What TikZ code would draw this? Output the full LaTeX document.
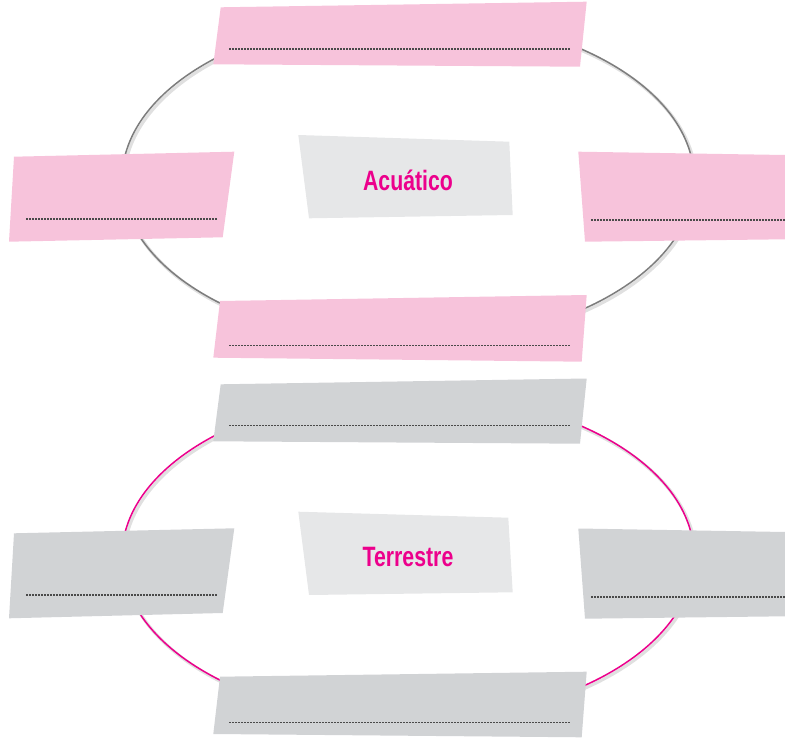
\documentclass[tikz,border=0pt]{standalone}
\usepackage{fontspec}
\setmainfont{Liberation Sans}
\usepackage{graphicx}
\definecolor{boxpink}{HTML}{F7C3DB}
\definecolor{boxgray}{HTML}{D1D3D5}
\definecolor{centergray}{HTML}{E6E7E8}
\definecolor{mag}{HTML}{EC008C}
\definecolor{ringgray}{HTML}{7D7D7D}
\definecolor{dotgray}{HTML}{4A4A4A}
\begin{document}
\begin{tikzpicture}[x=1pt,y=-1pt,
  ringshadow/.style={draw=black!12, line width=3.2pt},
  ringline/.style={line width=1.5pt},
  pinkbox/.style={fill=boxpink, draw=none},
  graybox/.style={fill=boxgray, draw=none},
  centerbox/.style={fill=centergray, draw=none},
  dotline/.style={draw=dotgray, line width=1.5pt, dash pattern=on 1.5pt off 1.5pt},
  title/.style={font=\bfseries\fontsize{28}{30}\selectfont, text=mag, anchor=base, inner sep=0pt}]
\useasboundingbox (0,0) rectangle (785,738);

% ---------- upper group (Acuatico) ----------
\coordinate (c1) at (408,179.5);
\draw[ringshadow] ([shift={(1.8,2)}]c1) ellipse [x radius=286, y radius=164];
\draw[ringline, draw=ringgray] (c1) ellipse [x radius=286, y radius=164];

\path[pinkbox] (220.7,7.3) -- (586.7,1.7) -- (580,66.7) -- (213.3,64.3) -- cycle;
\path[pinkbox] (14,156.7) -- (234.3,151.7) -- (222.7,237.3) -- (9,241.7) -- cycle;
\path[pinkbox] (578.3,151.7) -- (785,155) -- (785,239.3) -- (585,241.7) -- cycle;
\path[pinkbox] (220,301) -- (586.7,295) -- (581.7,361.7) -- (213.3,357.7) -- cycle;
\path[centerbox] (298.3,135) -- (509.3,141.7) -- (512.7,215) -- (309,218.3) -- cycle;

\coordinate (t1a) at (229,49);   \coordinate (t1b) at (571,49);
\coordinate (l1a) at (26,219);   \coordinate (l1b) at (217,219);
\coordinate (r1a) at (591,220);  \coordinate (r1b) at (785,220);
\coordinate (b1a) at (229,345.7); \coordinate (b1b) at (571,345.7);
\draw[dotline] (t1a) -- (t1b);
\draw[dotline] (l1a) -- (l1b);
\draw[dotline] (r1a) -- (r1b);
\draw[dotline] (b1a) -- (b1b);

\node[title] (acu) at (408,191) {\scalebox{0.76}[1]{Acuático}};

% ---------- lower group (Terrestre) ----------
\coordinate (c2) at (408,556.5);
\draw[ringshadow] ([shift={(1.8,2)}]c2) ellipse [x radius=286, y radius=164];
\draw[ringline, draw=mag] (c2) ellipse [x radius=286, y radius=164];

\path[graybox] (220.7,384.3) -- (586.7,378.5) -- (580,443.7) -- (213.3,441.3) -- cycle;
\path[graybox] (14,533.3) -- (234.3,528.3) -- (222.7,613) -- (9,618.3) -- cycle;
\path[graybox] (578.3,528.5) -- (785,532) -- (785,616.3) -- (585,618.7) -- cycle;
\path[graybox] (220,676.7) -- (586.7,671.7) -- (581.7,737.3) -- (213.3,734) -- cycle;
\path[centerbox] (298.3,511.7) -- (508.3,517.7) -- (512.7,592.3) -- (309,595) -- cycle;

\coordinate (t2a) at (229,425.5);   \coordinate (t2b) at (571,425.5);
\coordinate (l2a) at (26,595);    \coordinate (l2b) at (217,595);
\coordinate (r2a) at (591,597);   \coordinate (r2b) at (785,597);
\coordinate (b2a) at (229,722.3); \coordinate (b2b) at (571,722.3);
\draw[dotline] (t2a) -- (t2b);
\draw[dotline] (l2a) -- (l2b);
\draw[dotline] (r2a) -- (r2b);
\draw[dotline] (b2a) -- (b2b);

\node[title] (ter) at (408,566.7) {\scalebox{0.76}[1]{Terrestre}};
\end{tikzpicture}
\end{document}
